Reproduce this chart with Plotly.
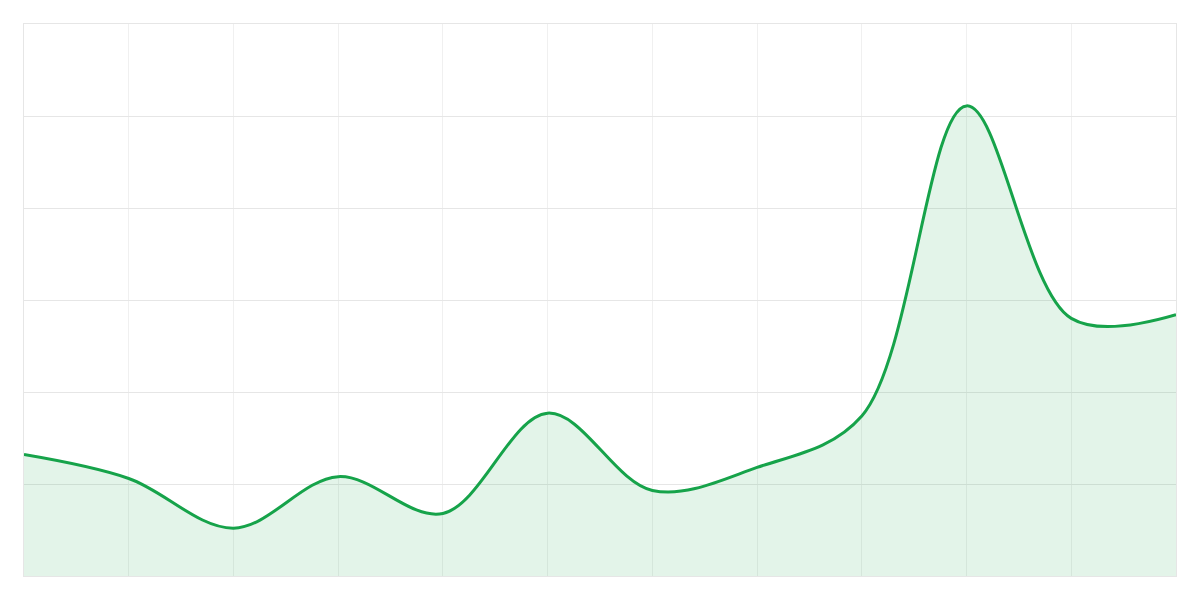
import plotly.graph_objects as go

x_values = list(range(12))
y_values = [132, 106, 52, 108, 68, 177, 93, 118, 174, 511, 280, 284]

fig = go.Figure()
fig.add_trace(go.Scatter(
    x=x_values, y=y_values, mode="lines",
    line=dict(color="#16a34a", width=3, shape="spline", smoothing=1.0),
    fill="tozeroy", fillcolor="rgba(22,163,74,0.12)",
    hoverinfo="skip",
))
fig.update_layout(
    width=1200, height=600,
    margin=dict(l=16, r=32, t=16, b=32),
    paper_bgcolor="white", plot_bgcolor="white",
    showlegend=False,
)
fig.update_xaxes(range=[0, 11], dtick=1, tick0=0, showticklabels=False,
                 showgrid=True, gridcolor="#f0f0f0", gridwidth=1, zeroline=False,
                 showline=True, linecolor="#e6e6e6", linewidth=1, mirror=True)
fig.update_yaxes(range=[0, 600], dtick=100, tick0=0, showticklabels=False,
                 showgrid=True, gridcolor="#e6e6e6", gridwidth=1, zeroline=False,
                 showline=True, linecolor="#e6e6e6", linewidth=1, mirror=True)
fig.write_html("out.html")
